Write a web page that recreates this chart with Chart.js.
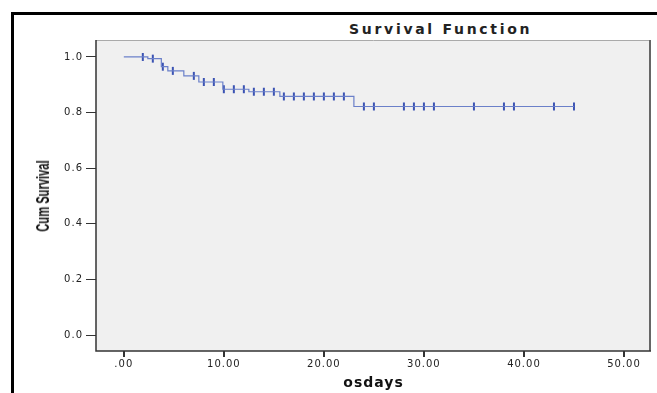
<!DOCTYPE html>
<html>
<head>
<meta charset="utf-8">
<script src="https://cdn.jsdelivr.net/npm/chart.js@4"></script>
<style>
  body { margin: 0; background: #fff; overflow: hidden; }
  #wrap { position: absolute; left: 0; top: 0; width: 657px; height: 393px; }
  #frame { position: absolute; left: 11px; top: 12px; width: 700px; height: 420px;
           border-left: 3px solid #000; border-top: 3px solid #000; }
  #title { position: absolute; left: 349px; top: 21px; font: bold 14px 'DejaVu Sans', sans-serif;
           letter-spacing: 2.7px; color: #222; line-height: 16px; white-space: nowrap; }
  #ytitle { position: absolute; left: 43px; top: 196px; font: bold 18px 'Liberation Sans', sans-serif;
            color: #111; line-height: 18px; white-space: nowrap;
            transform: translate(-50%, -50%) rotate(-90deg) scaleX(0.62); }
</style>
</head>
<body>
<div id="frame"></div>
<div id="title">Survival Function</div>
<div id="wrap"><canvas id="km"></canvas></div>
<div id="ytitle">Cum Survival</div>
<script>
// Kaplan-Meier: event times and survival after each event
const eventTimes = [0, 2.4, 3.75, 4.4, 6.0, 7.5, 9.9, 12.5, 15.6, 23.0];
const survival   = [1.0, 0.994, 0.965, 0.950, 0.932, 0.910, 0.884, 0.875, 0.858, 0.822];
const lastTime = 45;

// censored cases (+ marks)
const censorTimes = [1.9, 2.9, 3.9, 4.9, 7.0, 8.0, 9.0, 10.0, 11.0, 12.0, 13.0, 14.0, 15.0,
                     16.0, 17.0, 18.0, 19.0, 20.0, 21.0, 22.0, 24.0, 25.0, 28.0, 29.0, 30.0,
                     31.0, 35.0, 38.0, 39.0, 43.0, 45.0];
const censorSurv  = [1.0, 0.994, 0.965, 0.950, 0.932, 0.910, 0.910, 0.884, 0.884, 0.884, 0.875, 0.875, 0.875,
                     0.858, 0.858, 0.858, 0.858, 0.858, 0.858, 0.858, 0.822, 0.822, 0.822, 0.822, 0.822,
                     0.822, 0.822, 0.822, 0.822, 0.822, 0.822];

const xTickValues = [0, 10, 20, 30, 40, 50];
const xTickLabels = ['.00', '10.00', '20.00', '30.00', '40.00', '50.00'];
const yTickValues = [0, 0.2, 0.4, 0.6, 0.8, 1.0];
const yTickLabels = ['0.0', '0.2', '0.4', '0.6', '0.8', '1.0'];

const linePts = eventTimes.map((t, i) => ({ x: t, y: survival[i] }));
linePts.push({ x: lastTime, y: survival[survival.length - 1] });
const censorPts = censorTimes.map((t, i) => ({ x: t, y: censorSurv[i] }));

// фон и рамка области построения
const plotFrame = {
    id: 'plotFrame',
    beforeDraw(chart) {
        const { ctx, chartArea: a } = chart;
        ctx.save();
        ctx.fillStyle = '#f0f0f0';
        ctx.fillRect(a.left, a.top, a.right - a.left, a.bottom - a.top);
        ctx.restore();
        ctx.letterSpacing = '1px';
    },
    afterDraw(chart) {
        const { ctx, chartArea: a } = chart;
        ctx.save();
        ctx.lineWidth = 1;
        ctx.strokeStyle = '#aaa';
        ctx.beginPath(); ctx.moveTo(a.left, a.top + 0.5); ctx.lineTo(a.right, a.top + 0.5); ctx.stroke();
        ctx.lineWidth = 2;
        ctx.strokeStyle = '#666';
        ctx.beginPath(); ctx.moveTo(a.right - 1, a.top); ctx.lineTo(a.right - 1, a.bottom); ctx.stroke();
        ctx.lineWidth = 1.5;
        ctx.strokeStyle = '#333';
        ctx.beginPath();
        ctx.moveTo(a.left, a.top); ctx.lineTo(a.left, a.bottom); ctx.lineTo(a.right, a.bottom);
        ctx.stroke();
        ctx.restore();
        ctx.letterSpacing = '0px';
    }
};

new Chart(document.getElementById('km'), {
    type: 'scatter',
    data: {
        datasets: [{
            data: linePts,
            showLine: true,
            stepped: true,
            borderColor: '#6b80c9',
            borderWidth: 1.2,
            pointRadius: 0
        }, {
            data: censorPts,
            showLine: false,
            pointStyle: 'line',
            rotation: 90,
            pointRadius: 4,
            borderColor: '#3b53b3',
            borderWidth: 2
        }]
    },
    options: {
        responsive: true,
        maintainAspectRatio: false,
        animation: false,
        layout: { padding: { left: 0, right: 3, top: 40, bottom: 0 } },
        plugins: { legend: { display: false }, tooltip: { enabled: false } },
        scales: {
            x: {
                type: 'linear',
                min: -2.78,
                max: 52.7,
                afterBuildTicks: scale => { scale.ticks = xTickValues.map(v => ({ value: v })); },
                afterFit: scale => { scale.height = 42; },
                ticks: {
                    autoSkip: false, maxRotation: 0, padding: 1,
                    color: '#222',
                    font: { family: 'DejaVu Sans', size: 10 },
                    callback: (v, i) => xTickLabels[i]
                },
                grid: { drawOnChartArea: false, tickLength: 6, color: '#333', lineWidth: 2 },
                border: { display: false },
                title: {
                    display: true, text: 'osdays', color: '#111',
                    font: { family: 'DejaVu Sans', size: 14, weight: 'bold' },
                    padding: { top: 0, bottom: 1 }
                }
            },
            y: {
                min: -0.057,
                max: 1.061,
                afterBuildTicks: scale => { scale.ticks = yTickValues.map(v => ({ value: v })); },
                afterFit: scale => { scale.width = 96; },
                ticks: {
                    padding: 3, color: '#222',
                    font: { family: 'DejaVu Sans', size: 10 },
                    callback: (v, i) => yTickLabels[i]
                },
                grid: { drawOnChartArea: false, tickLength: 10, color: '#333', lineWidth: 1 },
                border: { display: false }
            }
        }
    },
    plugins: [plotFrame]
});
</script>
</body>
</html>
